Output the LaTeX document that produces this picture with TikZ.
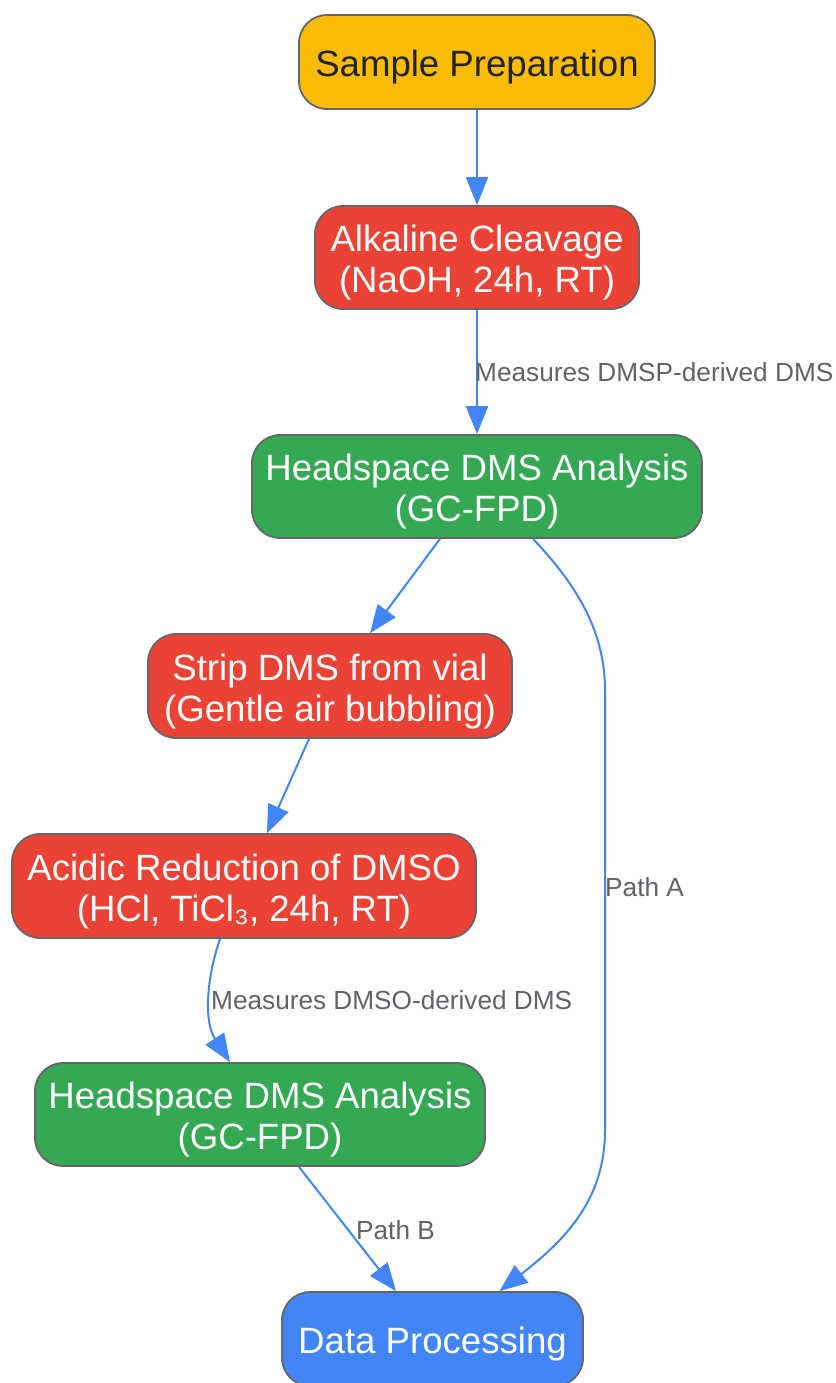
\documentclass[tikz,border=0pt]{standalone}
\usepackage{fontspec}
\setmainfont{Liberation Sans}
\usetikzlibrary{arrows.meta}
\definecolor{cyel}{HTML}{FBBC05}
\definecolor{cred}{HTML}{EA4335}
\definecolor{cgrn}{HTML}{34A853}
\definecolor{cblu}{HTML}{4285F4}
\definecolor{cbord}{HTML}{666666}
\definecolor{clbl}{HTML}{5F6368}
\definecolor{cdark}{HTML}{222222}
\tikzset{
  box/.style={draw=cbord, line width=1.8pt, rounded corners=28pt, inner sep=0pt},
  txt/.style={inner sep=0pt, align=center, font=\fontsize{36.6}{41}\selectfont, text=white, yshift=-5.5pt},
  lbl/.style={text=clbl, inner sep=0pt, font=\fontsize{26.2}{30}\selectfont, anchor=west},
  edge/.style={draw=cblu, line width=2pt, -{Triangle[length=28pt,width=22pt]}},
}
\begin{document}
\begin{tikzpicture}[x=1pt,y=-1pt]
\useasboundingbox (0,0) rectangle (835,1383);
\node[box, fill=cyel, minimum width=356pt, minimum height=94pt] (n1) at (477,62) {};
\node[box, fill=cred, minimum width=324pt, minimum height=103pt] (n2) at (477,257.5) {};
\node[box, fill=cgrn, minimum width=450pt, minimum height=103pt] (n3) at (477,486.5) {};
\node[box, fill=cred, minimum width=364pt, minimum height=104pt] (n4) at (330,686) {};
\node[box, fill=cred, minimum width=464pt, minimum height=104pt] (n5) at (244,886) {};
\node[box, fill=cgrn, minimum width=450pt, minimum height=103pt] (n6) at (260,1114.5) {};
\node[box, fill=cblu, minimum width=301pt, minimum height=94pt] (n7) at (432.5,1339) {};

\node[txt, text=cdark] (t1) at (n1.center) {Sample Preparation};
\node[txt] (t2) at (n2.center) {Alkaline Cleavage\\(NaOH, 24h, RT)};
\node[txt] (t3) at (n3.center) {Headspace DMS Analysis\\(GC-FPD)};
\node[txt] (t4) at (n4.center) {Strip DMS from vial\\(Gentle air bubbling)};
\node[txt] (t5) at (n5.center) {Acidic Reduction of DMSO\\(HCl, TiCl₃, 24h, RT)};
\node[txt] (t6) at (n6.center) {Headspace DMS Analysis\\(GC-FPD)};
\node[txt] (t7) at (n7.center) {Data Processing};

\draw[edge] (n1.south) -- (n2.north);
\draw[edge] (n2.south) -- (n3.north);
\node[lbl] (l1) at (475,372) {Measures DMSP-derived DMS};
\draw[edge] ([xshift=-37pt]n3.south) -- ([xshift=40pt]n4.north);
\draw[edge] ([xshift=56pt]n3.south) .. controls (575,583) and (605,630) .. (605,690)
  -- (605,1130) .. controls (605,1200) and (565,1240) .. ([xshift=67pt]n7.north);
\node[lbl] (l2) at (605,887) {Path A};
\draw[edge] ([xshift=-21pt]n4.south) -- ([xshift=23pt]n5.north);
\draw[edge] ([xshift=-24pt]n5.south) .. controls (206,980) and (204,1022) .. ([xshift=-30pt]n6.north);
\node[lbl] (l3) at (211,1000) {Measures DMSO-derived DMS};
\draw[edge] ([xshift=39pt]n6.south) -- ([xshift=-36.5pt]n7.north);
\node[lbl] (l4) at (356,1230) {Path B};
\end{tikzpicture}
\end{document}
